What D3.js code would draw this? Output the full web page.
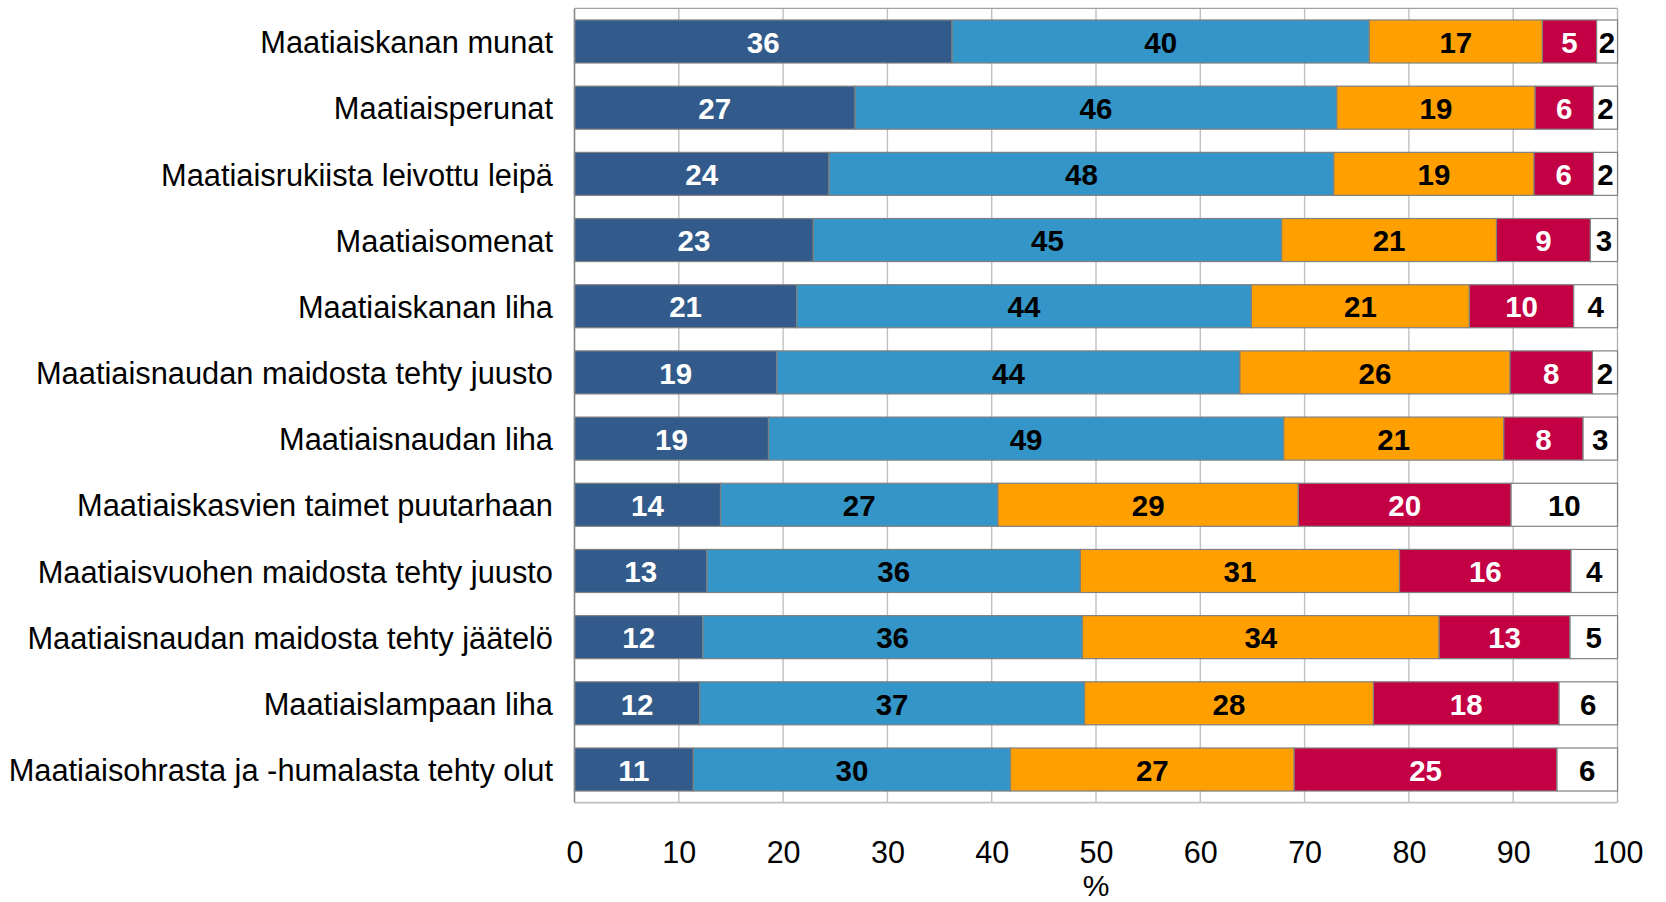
<!DOCTYPE html>
<html>
<head>
<meta charset="utf-8">
<script src="https://cdn.jsdelivr.net/npm/d3@7"></script>
<style>
  html, body { margin: 0; padding: 0; background: #fff; }
  svg { display: block; font-family: "Liberation Sans", Arial, sans-serif; }
</style>
</head>
<body>
<svg id="chart" width="1666" height="902"></svg>
<script>
// ---- data ----
const categories = [
  "Maatiaiskanan munat",
  "Maatiaisperunat",
  "Maatiaisrukiista leivottu leipä",
  "Maatiaisomenat",
  "Maatiaiskanan liha",
  "Maatiaisnaudan maidosta tehty juusto",
  "Maatiaisnaudan liha",
  "Maatiaiskasvien taimet puutarhaan",
  "Maatiaisvuohen maidosta tehty juusto",
  "Maatiaisnaudan maidosta tehty jäätelö",
  "Maatiaislampaan liha",
  "Maatiaisohrasta ja -humalasta tehty olut"
];
const series1 = [36.2, 26.9, 24.4, 22.9, 21.3, 19.4, 18.6, 14.0, 12.7, 12.3, 12.0, 11.4];
const series2 = [40.0, 46.2, 48.4, 44.9, 43.6, 44.4, 49.4, 26.6, 35.8, 36.4, 36.9, 30.4];
const series3 = [16.6, 19.0, 19.2, 20.6, 20.9, 25.9, 21.1, 28.8, 30.6, 34.2, 27.7, 27.2];
const series4 = [5.2, 5.6, 5.7, 9.0, 10.0, 7.9, 7.6, 20.4, 16.45, 12.55, 17.8, 25.2];
const series5 = [2.0, 2.3, 2.3, 2.6, 4.2, 2.4, 3.3, 10.2, 4.45, 4.55, 5.6, 5.8];
const seriesKeys = ["s1", "s2", "s3", "s4", "s5"];
const seriesColors = ["#325b8c", "#3496c8", "#ffa000", "#c20043", "#ffffff"];
const labelColors = ["#ffffff", "#000000", "#000000", "#ffffff", "#000000"];
const xTicks = [0, 10, 20, 30, 40, 50, 60, 70, 80, 90, 100];
const xAxisTitle = "%";

// ---- build table ----
const allSeries = [series1, series2, series3, series4, series5];
const table = categories.map((c, i) => {
  const row = { cat: c };
  seriesKeys.forEach((k, j) => row[k] = allSeries[j][i]);
  return row;
});

const svg = d3.select("#chart");
svg.append("rect").attr("width", 1666).attr("height", 902).attr("fill", "#fff");

const plotTop = 8.4, plotBottom = 802.6;
const x = d3.scaleLinear().domain([0, 100]).range([574.5, 1617.5]);
const y = d3.scaleBand().domain(categories).range([plotTop, plotBottom])
  .paddingInner(0.35).paddingOuter(0.175);

// gridlines
svg.append("g").selectAll("line")
  .data(xTicks.filter(t => t > 0 && t < 100))
  .join("line")
  .attr("x1", d => x(d)).attr("x2", d => x(d))
  .attr("y1", plotTop).attr("y2", plotBottom)
  .attr("stroke", "#c0c0c0").attr("stroke-width", 1.4);

// plot border
svg.append("line").attr("x1", x(0)).attr("x2", x(100)).attr("y1", plotTop).attr("y2", plotTop)
  .attr("stroke", "#a0a0a0").attr("stroke-width", 1.4);
svg.append("line").attr("x1", x(100)).attr("x2", x(100)).attr("y1", plotTop).attr("y2", plotBottom)
  .attr("stroke", "#b4b4b4").attr("stroke-width", 1.4);
svg.append("line").attr("x1", x(0)).attr("x2", x(100)).attr("y1", plotBottom).attr("y2", plotBottom)
  .attr("stroke", "#c0c0c0").attr("stroke-width", 1.6);

// stacked bars
const stacked = d3.stack().keys(seriesKeys)(table);
const layers = svg.append("g").selectAll("g")
  .data(stacked)
  .join("g")
  .attr("fill", (d, i) => seriesColors[i]);

layers.selectAll("rect")
  .data(d => d)
  .join("rect")
  .attr("x", d => x(d[0]))
  .attr("y", d => y(d.data.cat))
  .attr("width", d => x(d[1]) - x(d[0]))
  .attr("height", y.bandwidth())
  .attr("stroke", "#808080")
  .attr("stroke-width", 1.2);

// value labels
const labelLayers = svg.append("g").selectAll("g")
  .data(stacked)
  .join("g")
  .attr("fill", (d, i) => labelColors[i]);

labelLayers.selectAll("text")
  .data(d => d)
  .join("text")
  .attr("x", d => (x(d[0]) + x(d[1])) / 2)
  .attr("y", d => y(d.data.cat) + y.bandwidth() / 2)
  .attr("dy", "0.38em")
  .attr("text-anchor", "middle")
  .attr("font-size", "29.5px")
  .attr("font-weight", "bold")
  .text(d => Math.round(d[1] - d[0]));

// left axis line
svg.append("line").attr("x1", x(0)).attr("x2", x(0)).attr("y1", plotTop).attr("y2", plotBottom)
  .attr("stroke", "#888888").attr("stroke-width", 1.6);

// category labels
svg.append("g").selectAll("text")
  .data(categories)
  .join("text")
  .attr("x", 553)
  .attr("y", d => y(d) + y.bandwidth() / 2)
  .attr("dy", "0.38em")
  .attr("text-anchor", "end")
  .attr("font-size", "30.8px")
  .attr("fill", "#000")
  .text(d => d);

// x axis
const xAxis = d3.axisBottom(x).tickValues(xTicks).tickSize(0).tickPadding(38.5)
  .tickFormat(d3.format("d"));
const gx = svg.append("g").attr("transform", `translate(0,${plotBottom})`).call(xAxis);
gx.select(".domain").remove();
gx.selectAll("text").attr("font-size", "30.5px").attr("fill", "#000")
  .attr("font-family", "'Liberation Sans', Arial, sans-serif");

svg.append("text")
  .attr("x", x(50)).attr("y", 896)
  .attr("text-anchor", "middle")
  .attr("font-size", "30px")
  .attr("fill", "#000")
  .text(xAxisTitle);
</script>
</body>
</html>
